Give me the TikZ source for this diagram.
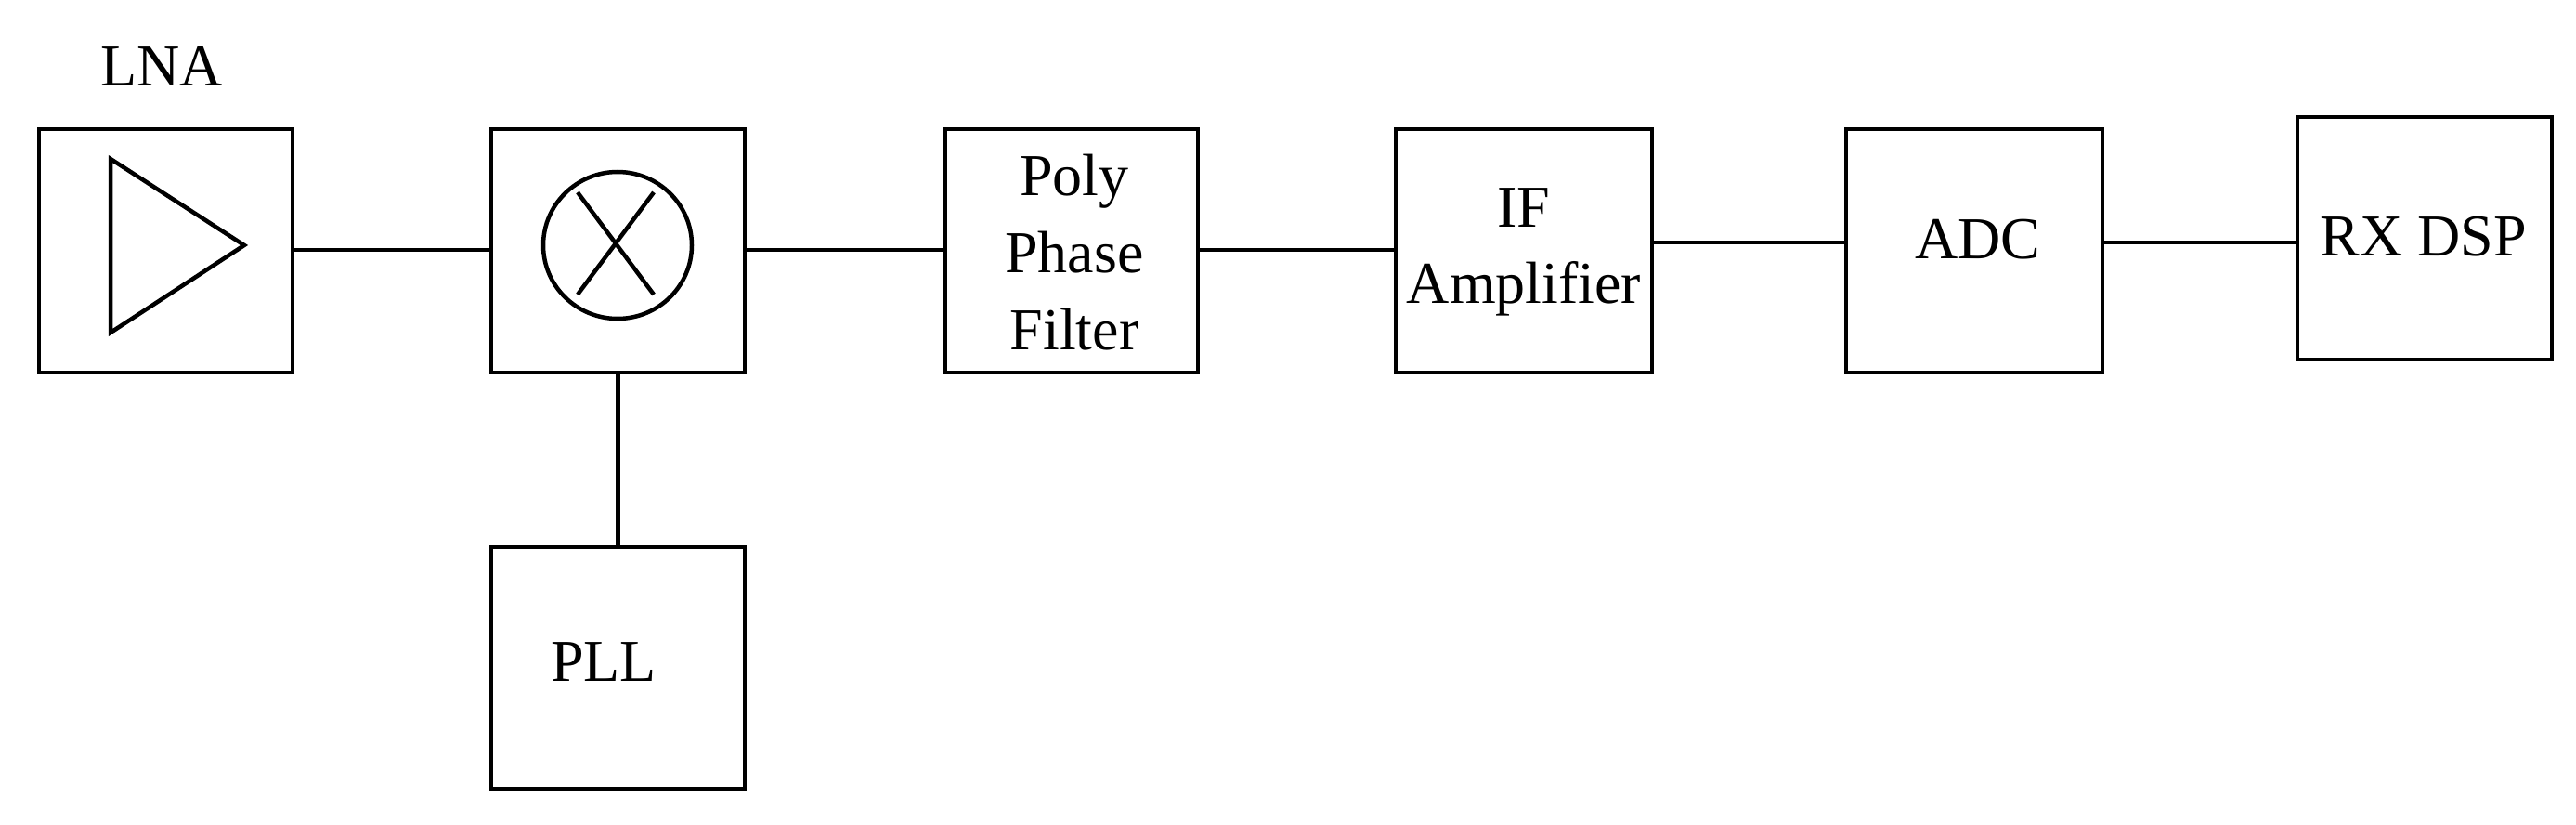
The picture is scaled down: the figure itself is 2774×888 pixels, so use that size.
\documentclass[tikz,border=0pt]{standalone}
\usepackage{fontspec}
\usetikzlibrary{shapes.geometric}
\setmainfont{Liberation Serif}
\begin{document}
\begin{tikzpicture}[x=1pt,y=-1pt,line width=4.5pt,
  box/.style={draw,line width=4.5pt,minimum width=#1,inner sep=0pt},
  lbl/.style={font=\fontsize{64}{83}\selectfont,align=center,inner sep=0pt}]
\useasboundingbox (0,0) rectangle (2774,888);
\node[box=273pt,minimum height=262pt] (lna) at (178.5,270) {};
\node[lbl] (lnat) at (174,71) {LNA};
\draw[line join=miter] (119,171) -- (263,264) -- (119,358) -- cycle;
\node[box=273pt,minimum height=262pt] (mix) at (665.5,270) {};
\node[draw,line width=4.5pt,ellipse,minimum width=160pt,minimum height=158pt,inner sep=0pt] (circ) at (665,264) {};
\draw (622,207) -- (704,317);
\draw (704,207) -- (622,317);
\node[box=273pt,minimum height=260pt] (pll) at (665.5,719) {};
\node[lbl] at (650,713) {PLL};
\node[box=272pt,minimum height=262pt] (ppf) at (1154,270) {};
\node[lbl] at (1157,272) {Poly\\Phase\\Filter};
\node[box=276pt,minimum height=262pt] (ifa) at (1641,270) {};
\node[lbl] at (1641,224) {IF};
\node[lbl] at (1641,311) {Amplifier};
\node[box=276pt,minimum height=262pt] (adc) at (2126,270) {};
\node[lbl] at (2130,258) {ADC};
\node[box=274pt,minimum height=261pt] (rx) at (2611,256.5) {};
\node[lbl] at (2610,255) {RX DSP};
\draw (lna.east |- 0,269) -- (mix.west |- 0,269);
\draw (mix.east |- 0,269) -- (ppf.west |- 0,269);
\draw (ppf.east |- 0,269) -- (ifa.west |- 0,269);
\draw (ifa.east |- 0,261) -- (adc.west |- 0,261);
\draw (adc.east |- 0,261) -- (rx.west |- 0,261);
\draw (mix.south) -- (pll.north);
\end{tikzpicture}
\end{document}
